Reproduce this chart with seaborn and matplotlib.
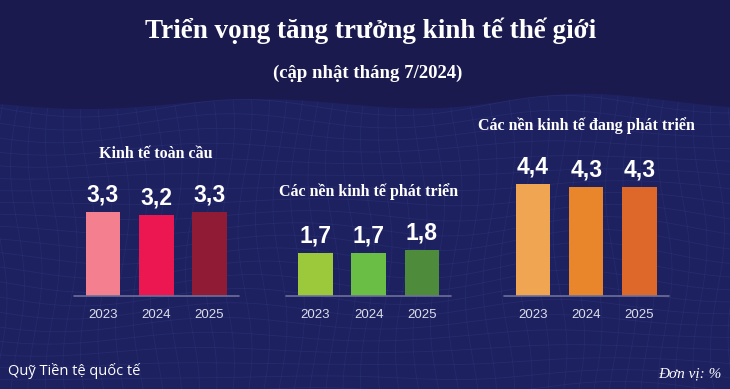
import numpy as np
import matplotlib
matplotlib.use("Agg")
import matplotlib.pyplot as plt
import seaborn as sns

# số liệu (IMF, cập nhật 7/2024)
years = ["2023", "2024", "2025"]
global_growth = [3.3, 3.2, 3.3]
advanced_growth = [1.7, 1.7, 1.8]
emerging_growth = [4.4, 4.3, 4.3]

panel_titles = ["Kinh tế toàn cầu",
                "Các nền kinh tế phát triển",
                "Các nền kinh tế đang phát triển"]
panel_colors = [["#F47F8E", "#EC1650", "#8F1B35"],
                ["#9BC93B", "#6BBE45", "#4E8B3A"],
                ["#EFA552", "#E9862C", "#DD682A"]]

BG = "#1B1A4E"
W, H = 730, 389

sns.set_theme(style="white")
fig = plt.figure(figsize=(7.3, 3.89), dpi=100, facecolor=BG)

# nền lưới sóng (trang trí)
bg = fig.add_axes([0, 0, 1, 1], zorder=-1)
bg.set_xlim(0, W)
bg.set_ylim(H, 0)
bg.axis("off")
bg.set_facecolor(BG)
xs = np.linspace(0, W, 400)
top = 104 + 5 * np.sin(xs / 55) - 6 * np.exp(-((xs - 560) / 90) ** 2)
bg.fill_between(xs, top, H, color="#1E2160", lw=0)
for k in range(22):
    yy = top + 4 + k * 13.5 + 4 * np.sin(xs / 48 + k * 0.45)
    bg.plot(xs, yy, color="#3A4896", lw=0.6, alpha=0.25)
ys = np.linspace(90, H, 200)
for j in range(44):
    xx = j * 17.5 + 7 * np.sin(ys / 38 + j * 0.35)
    mask = ys > np.interp(xx, xs, top)
    bg.plot(xx[mask], ys[mask], color="#3A4896", lw=0.6, alpha=0.22)

series = [global_growth, advanced_growth, emerging_growth]
lefts = [0.101, 0.392, 0.690]

for values, title, colors, left in zip(series, panel_titles, panel_colors, lefts):
    ax = fig.add_axes([left, 0.239, 0.226, 0.3265])
    sns.barplot(x=years, y=values, hue=years, palette=colors, legend=False,
                width=0.65, saturation=1, linewidth=0, edgecolor="none", ax=ax)
    ax.set_xlim(-0.55, 2.55)
    ax.set_ylim(0, 5)
    ax.set_facecolor("none")
    sns.despine(ax=ax, left=True, bottom=True)
    ax.set_yticks([])
    ax.set_ylabel("")
    ax.axhline(0, color="#6D7099", lw=1.2, clip_on=False)
    ax.tick_params(axis="x", length=0, pad=9, labelsize=9.5, colors="#DCDDE8")
    for lab in ax.get_xticklabels():
        lab.set_family("Liberation Sans")
    for i, v in enumerate(values):
        ax.annotate(f"{v:.1f}".replace(".", ","), xy=(i, v), xytext=(0, 4),
                    textcoords="offset points", ha="center", va="bottom",
                    fontsize=16.5, fontweight="bold", color="white",
                    family="Liberation Sans")
    ax.annotate(title, xy=(1, max(values)), xytext=(0, 42),
                textcoords="offset points", ha="center", va="center",
                fontsize=11.5, fontweight="bold", color="white",
                family="Liberation Serif")

fig.text(0.507, 0.92, "Triển vọng tăng trưởng kinh tế thế giới", ha="center",
         va="center", fontsize=19.5, fontweight="bold", color="white",
         family="Liberation Serif")
fig.text(0.503, 0.812, "(cập nhật tháng 7/2024)", ha="center", va="center",
         fontsize=13.5, fontweight="bold", color="white", family="Liberation Serif")
fig.text(0.011, 0.045, "Quỹ Tiền tệ quốc tế", ha="left", va="center",
         fontsize=10.5, color="white", family="Open Sans")
fig.text(0.989, 0.04, "Đơn vị: %", ha="right", va="center", fontsize=11,
         style="italic", color="white", family="Liberation Serif")

fig.savefig("out.png", dpi=100, facecolor=BG)
